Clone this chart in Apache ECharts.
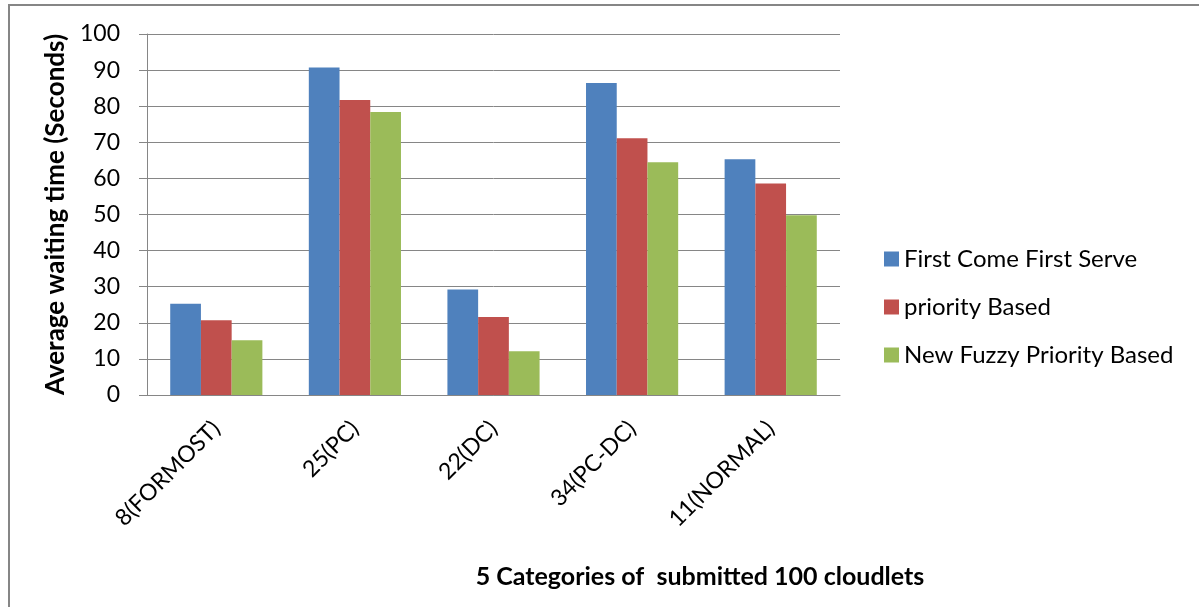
<!DOCTYPE html>
<html>
<head>
<meta charset="utf-8">
<script src="https://cdn.jsdelivr.net/npm/echarts@6/dist/echarts.min.js"></script>
<style>
html,body{margin:0;padding:0;background:#fff;}
#c{width:1199px;height:607px;}
</style>
</head>
<body>
<div id="c"></div>
<script>
const categories = ['8(FORMOST)', '25(PC)', '22(DC)', '34(PC-DC)', '11(NORMAL)'];
const fcfs = [25.3, 90.7, 29.2, 86.4, 65.3];
const priorityBased = [20.7, 81.7, 21.6, 71.1, 58.6];
const fuzzyPriority = [15.2, 78.4, 12.1, 64.5, 49.8];
const seriesNames = ['First Come First Serve', 'priority Based', 'New Fuzzy Priority Based'];
const yTicks = {min: 0, max: 100, interval: 10};

const FONT = 'Lato';
const chart = echarts.init(document.getElementById('c'), null, {renderer: 'canvas'});
const mk = (name, data, color) => ({
  name, type: 'bar', data, barGap: 0, barCategoryGap: '33.5%',
  itemStyle: {color}
});
chart.setOption({
  animation: false,
  textStyle: {fontFamily: FONT},
  grid: {left: 147, right: 359, top: 34, bottom: 212, containLabel: false},
  legend: {
    orient: 'vertical', left: 879, top: 242, icon: 'rect',
    itemWidth: 15, itemHeight: 15, itemGap: 24,
    textStyle: {fontFamily: FONT, fontSize: 24, lineHeight: 24, color: '#000'},
    data: seriesNames
  },
  xAxis: {
    type: 'category', data: categories,
    axisLine: {lineStyle: {color: '#868686', width: 1}},
    axisTick: {length: 7, lineStyle: {color: '#868686'}},
    axisLabel: {rotate: 45, interval: 0, margin: 30, fontSize: 23, color: '#000', fontFamily: FONT}
  },
  yAxis: {
    type: 'value', min: yTicks.min, max: yTicks.max, interval: yTicks.interval,
    name: 'Average waiting time (Seconds)', nameLocation: 'middle', nameRotate: 90, nameGap: 78,
    nameTextStyle: {fontFamily: FONT, fontWeight: 'bold', fontSize: 26, color: '#000'},
    axisLine: {show: true, lineStyle: {color: '#868686', width: 1}},
    axisTick: {show: true, length: 8, lineStyle: {color: '#868686'}},
    axisLabel: {margin: 27, fontSize: 23, color: '#000', fontFamily: FONT},
    splitLine: {lineStyle: {color: '#868686', width: 1}}
  },
  graphic: [
    {type: 'rect', shape: {x: 9, y: 5, width: 1300, height: 700}, style: {fill: 'none', stroke: '#868686', lineWidth: 2}, silent: true},
    {type: 'text', x: 700, y: 577, style: {text: '5 Categories of  submitted 100 cloudlets', font: 'bold 25px ' + FONT, fill: '#000', textAlign: 'center', textVerticalAlign: 'middle'}}
  ],
  series: [
    mk(seriesNames[0], fcfs, '#4F81BD'),
    mk(seriesNames[1], priorityBased, '#C0504D'),
    mk(seriesNames[2], fuzzyPriority, '#9BBB59')
  ]
});
</script>
</body>
</html>
